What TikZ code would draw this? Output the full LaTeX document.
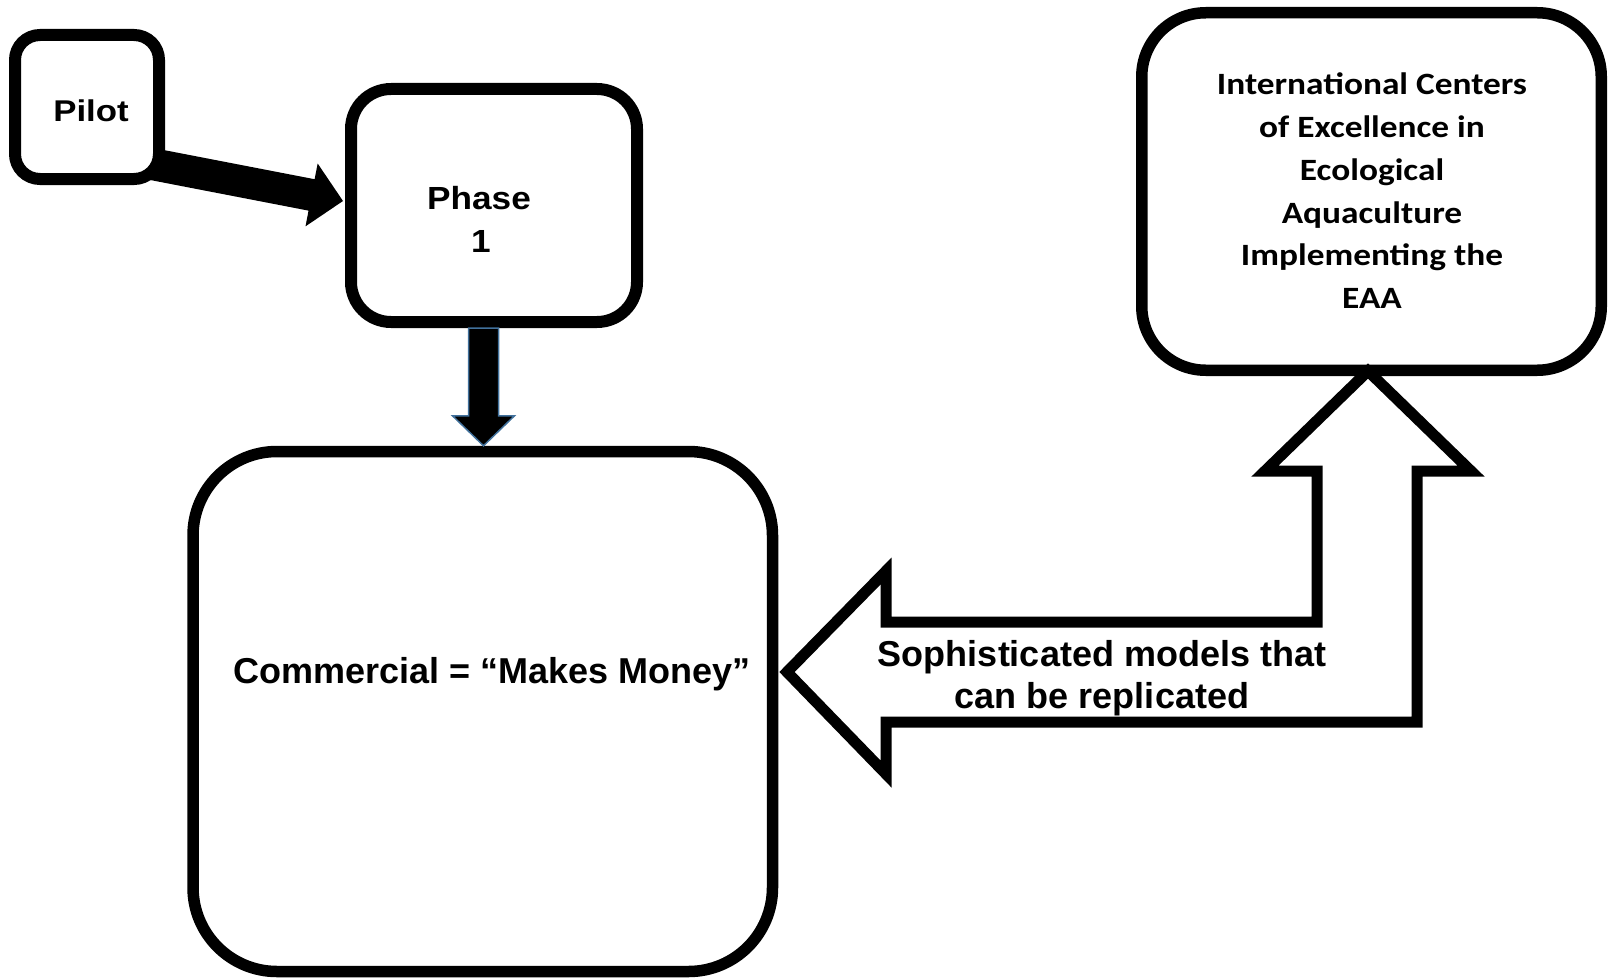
\documentclass[tikz,border=0pt]{standalone}
\usepackage{fontspec}
\setmainfont{Liberation Sans}
\newfontfamily\calibrifont{Carlito}
\usetikzlibrary{calc,backgrounds}
\definecolor{arrowblue}{HTML}{41719C}
\tikzset{
  box/.style={draw=black, fill=white, line width=12pt, rectangle, inner sep=0pt},
  lbl/.style={inner sep=0pt, outer sep=0pt, text=black},
  blockarrow/.style={draw=black, fill=white, line width=11pt, line join=miter},
  solidarrow/.style={fill=black},
  downarrow/.style={fill=black, draw=arrowblue, line width=1.5pt, line join=miter},
}
\begin{document}
\begin{tikzpicture}[x=1pt,y=-1pt]
\useasboundingbox (0,0) rectangle (1616,979);
% boxes
\node[box, minimum width=144pt, minimum height=144pt, rounded corners=25pt] (pilot) at (87,107) {};
\node[box, minimum width=286pt, minimum height=233pt, rounded corners=40pt] (phase) at (494,205.5) {};
\node[box, line width=11.5pt, minimum width=579.5pt, minimum height=520pt, rounded corners=84pt] (comm) at (482.75,711.5) {};
\node[box, line width=11.5pt, minimum width=459.5pt, minimum height=357.5pt, rounded corners=64pt] (iceaa) at (1371.5,191.5) {};
% Pilot -> Phase 1 (solid arrow, behind the Pilot box)
\coordinate (ps) at ([shift={(13,47)}]pilot.center);
\coordinate (pt) at ([shift={(-2,-4.5)}]phase.west);
\coordinate (pb) at ($(pt)!32pt!(ps)$);
\begin{scope}[on background layer]
\fill[solidarrow] ($(ps)!16pt!90:(pt)$) -- ($(pb)!16pt!90:(pt)$) -- ($(pb)!32pt!90:(pt)$) -- (pt)
  -- ($(pb)!32pt!-90:(pt)$) -- ($(pb)!16pt!-90:(pt)$) -- ($(ps)!16pt!-90:(pt)$) -- cycle;
\end{scope}
% Phase 1 -> Commercial
\coordinate (dt) at ([xshift=-10.5pt]phase.south);
\coordinate (dp) at (dt |- comm.north);
\filldraw[downarrow] ($(dt)+(-15,0)$) -- ($(dp)+(-15,-30)$) -- ($(dp)+(-31,-30)$) -- (dp)
  -- ($(dp)+(31,-30)$) -- ($(dp)+(15,-30)$) -- ($(dt)+(15,0)$) -- cycle;
% bent block arrow: Centers <-> Commercial
\coordinate (ltip) at (787,672);
\coordinate (utip) at (1368,371);
\draw[blockarrow] (ltip) -- ++(99,-101) -- ++(0,51) -- ++(431,0) -- ++(0,-151) -- ++(-52,0)
  -- (utip) -- ++(103,100) -- ++(-54,0) -- ++(0,251) -- ++(-531,0) -- ++(0,52) -- cycle;
% texts
\node[lbl, anchor=base, font=\fontsize{30}{36}\selectfont\bfseries] (tpilot) at (91,121.7) {\scalebox{1.16}[1]{Pilot}};
\node[lbl, align=center, font=\fontsize{32}{43}\selectfont\bfseries] (tphase) at (479,219) {\scalebox{1.1}[1]{Phase}\\\hspace*{4pt}\scalebox{1.1}[1]{1}};
\node[lbl, anchor=base, font=\fontsize{36}{42}\selectfont\bfseries] (tcomm) at (492,683) {Commercial = “Makes Money”};
\node[lbl, align=center, font=\fontsize{36}{42}\selectfont\bfseries] (tsoph) at (1102,678) {Sophisticated models that\\can be replicated};
\node[lbl, align=center, font=\calibrifont\fontsize{31}{42.8}\selectfont\bfseries] (tice) at (1372,190.7)
  {\scalebox{1.14}[1]{International Centers}\\\scalebox{1.14}[1]{of Excellence in}\\\scalebox{1.14}[1]{Ecological}\\\scalebox{1.14}[1]{Aquaculture}\\\scalebox{1.14}[1]{Implementing the}\\\scalebox{1.14}[1]{EAA}};
\end{tikzpicture}
\end{document}
